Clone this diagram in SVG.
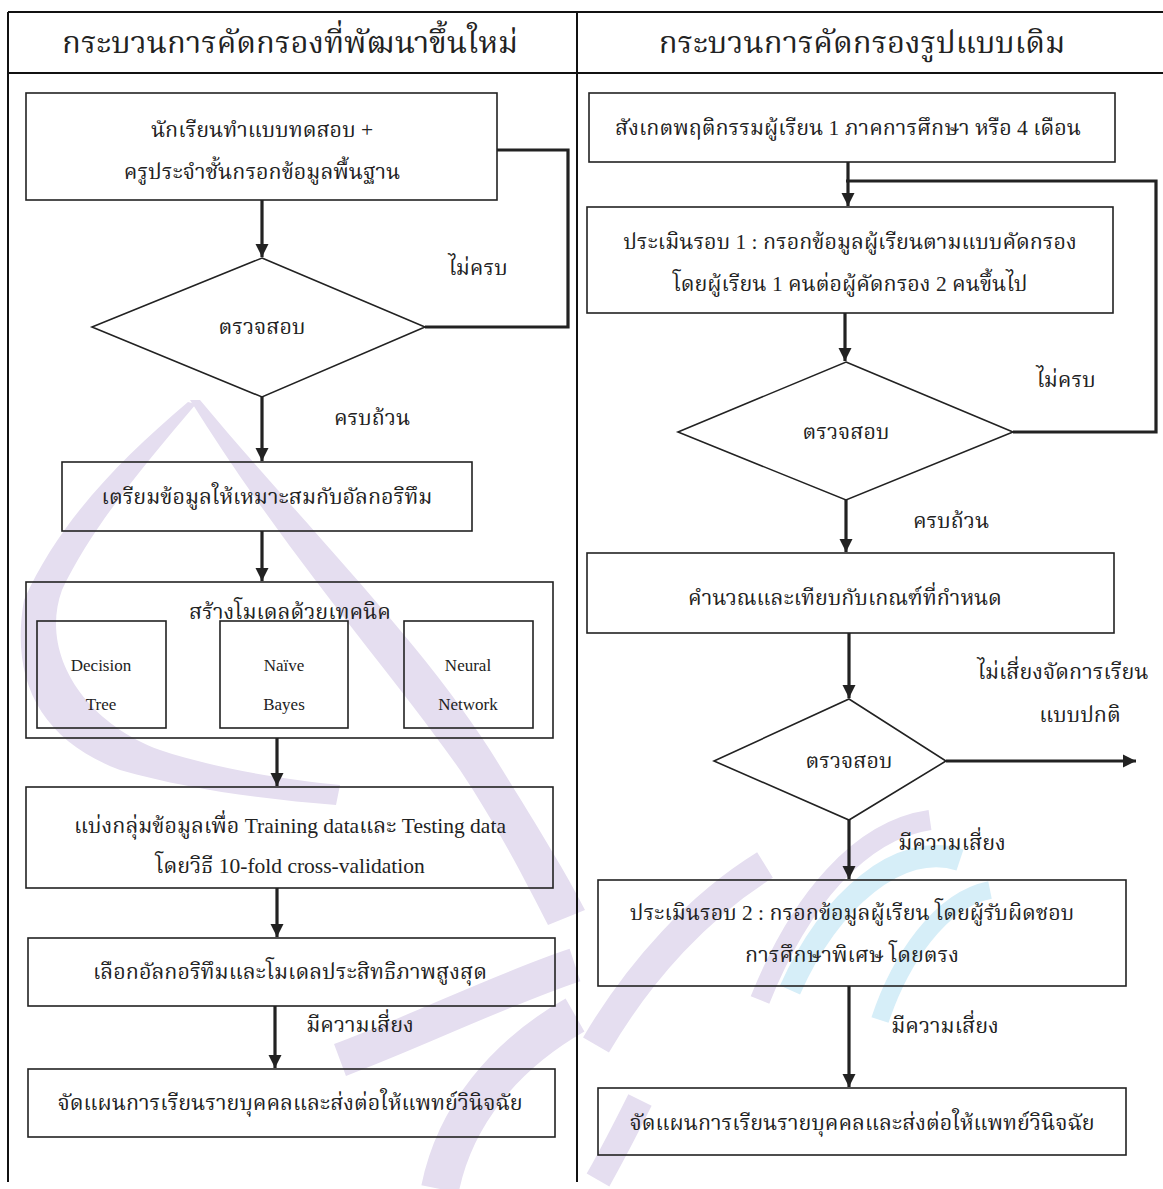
<svg xmlns="http://www.w3.org/2000/svg" width="1163" height="1189" viewBox="0 0 1163 1189">
<defs>
<marker id="ah" viewBox="0 0 10 10" refX="10" refY="5" markerWidth="4.2" markerHeight="4.2" markerUnits="strokeWidth" orient="auto">
<path d="M0,0 L10,5 L0,10 z" fill="#222"/>
</marker>
</defs>
<style>
.t{font-family:"Liberation Serif","Noto Serif Thai","Noto Sans Thai",serif;fill:#222;text-anchor:middle;dominant-baseline:central}
.h{font-size:31px}
.b{font-size:21.5px}
.s{font-size:17px}
.box{fill:none;stroke:#222;stroke-width:1.6}
.dia{fill:none;stroke:#222;stroke-width:1.6}
.tb{stroke:#111;stroke-width:2;fill:none}
.c{stroke:#222;stroke-width:3.2;fill:none}
.ca{stroke:#222;stroke-width:3.2;fill:none;marker-end:url(#ah)}
.wm{fill:none;stroke:#e5def0;stroke-linecap:butt}
.wf{fill:#e5def0;stroke:none}
.wc{fill:none;stroke:#d6eef8}
</style>
<rect width="1163" height="1189" fill="#fff"/>
<g id="watermark">
<path class="wf" d="M 190 400 L 200 400 C 300 520 420 640 490 750 C 540 830 570 880 585 910 L 548 925 C 530 890 500 830 460 770 C 390 670 290 560 190 400 Z"/>
<path class="wf" d="M 188 402 L 196 404 C 140 470 90 530 62 590 C 40 650 80 720 160 750 C 220 770 290 780 340 785 L 336 805 C 270 800 190 790 120 770 C 40 740 10 680 24 600 C 60 520 120 460 188 402 Z"/>
<path class="wm" stroke-width="34" d="M 575 965 C 500 990 420 1030 340 1060"/>
<path class="wm" stroke-width="38" d="M 575 1015 C 505 1055 455 1115 440 1189"/>
<path class="wm" stroke-width="30" d="M 596 1045 C 640 970 700 905 765 865"/>
<path class="wm" stroke-width="26" d="M 598 1180 C 615 1150 630 1120 640 1100"/>
<path class="wc" stroke-width="22" d="M 790 990 C 830 900 900 840 960 860"/>
<path class="wm" stroke-width="20" d="M 760 1000 C 800 900 860 830 930 820"/>
<path class="wc" stroke-width="18" d="M 880 1020 C 900 960 940 900 990 890"/>
</g>
<g id="table">
<line class="tb" x1="8" y1="12" x2="1163" y2="12"/>
<line class="tb" x1="8" y1="73" x2="1163" y2="73"/>
<line class="tb" x1="8" y1="12" x2="8" y2="1182"/>
<line class="tb" x1="577" y1="12" x2="577" y2="1182"/>
<text class="t h" x="290" y="42">กระบวนการคัดกรองที่พัฒนาขึ้นใหม่</text>
<text class="t h" x="862" y="42">กระบวนการคัดกรองรูปแบบเดิม</text>
</g>
<g id="connectors">
<polyline class="c" points="497,150 568,150 568,327 425,327"/>
<line class="ca" x1="262" y1="200" x2="262" y2="257"/>
<line class="ca" x1="262" y1="397" x2="262" y2="461"/>
<line class="ca" x1="262" y1="531" x2="262" y2="581"/>
<line class="ca" x1="277" y1="738" x2="277" y2="786"/>
<line class="ca" x1="277" y1="888" x2="277" y2="937"/>
<line class="ca" x1="275" y1="1006" x2="275" y2="1068"/>
<line class="ca" x1="848" y1="162" x2="848" y2="206"/>
<polyline class="c" points="1013,432 1156,432 1156,181 846,181"/>
<line class="ca" x1="845" y1="313" x2="845" y2="361"/>
<line class="ca" x1="846" y1="500" x2="846" y2="552"/>
<line class="ca" x1="849" y1="633" x2="849" y2="698"/>
<line class="ca" x1="946" y1="761" x2="1136" y2="761"/>
<line class="ca" x1="849" y1="820" x2="849" y2="879"/>
<line class="ca" x1="849" y1="986" x2="849" y2="1087"/>
<text class="t b" x="478" y="268">ไม่ครบ</text>
<text class="t b" x="372" y="418">ครบถ้วน</text>
<text class="t b" x="360" y="1025">มีความเสี่ยง</text>
<text class="t b" x="1066" y="380">ไม่ครบ</text>
<text class="t b" x="951" y="521">ครบถ้วน</text>
<text class="t b" x="1063" y="672">ไม่เสี่ยงจัดการเรียน</text>
<text class="t b" x="1080" y="715">แบบปกติ</text>
<text class="t b" x="952" y="843">มีความเสี่ยง</text>
<text class="t b" x="945" y="1026">มีความเสี่ยง</text>
</g>
<g id="n-start">
<rect class="box" x="26" y="93" width="471" height="107"/>
<text class="t b" x="262" y="130">นักเรียนทำแบบทดสอบ +</text>
<text class="t b" x="262" y="172">ครูประจำชั้นกรอกข้อมูลพื้นฐาน</text>
</g>
<g id="n-check1">
<polygon class="dia" points="262,258 425,327 262,397 92,327"/>
<text class="t b" x="262" y="327">ตรวจสอบ</text>
</g>
<g id="n-prep">
<rect class="box" x="62" y="462" width="410" height="69"/>
<text class="t b" x="267" y="497">เตรียมข้อมูลให้เหมาะสมกับอัลกอริทึม</text>
</g>
<g id="n-model">
<rect class="box" x="26" y="582" width="527" height="156"/>
<text class="t b" x="290" y="612">สร้างโมเดลด้วยเทคนิค</text>
</g>
<g id="n-dt">
<rect class="box" x="37" y="621" width="129" height="107"/>
<text class="t s" x="101" y="665">Decision</text>
<text class="t s" x="101" y="704">Tree</text>
</g>
<g id="n-nb">
<rect class="box" x="220" y="621" width="128" height="107"/>
<text class="t s" x="284" y="665">Naïve</text>
<text class="t s" x="284" y="704">Bayes</text>
</g>
<g id="n-nn">
<rect class="box" x="404" y="621" width="129" height="107"/>
<text class="t s" x="468" y="665">Neural</text>
<text class="t s" x="468" y="704">Network</text>
</g>
<g id="n-split">
<rect class="box" x="26" y="787" width="527" height="101"/>
<text class="t b" x="290" y="826">แบ่งกลุ่มข้อมูลเพื่อ Training dataและ Testing data</text>
<text class="t b" x="290" y="866">โดยวิธี 10-fold cross-validation</text>
</g>
<g id="n-select">
<rect class="box" x="28" y="938" width="527" height="68"/>
<text class="t b" x="290" y="972">เลือกอัลกอริทึมและโมเดลประสิทธิภาพสูงสุด</text>
</g>
<g id="n-plan-l">
<rect class="box" x="28" y="1069" width="527" height="68"/>
<text class="t b" x="290" y="1103">จัดแผนการเรียนรายบุคคลและส่งต่อให้แพทย์วินิจฉัย</text>
</g>
<g id="n-observe">
<rect class="box" x="589" y="93" width="526" height="69"/>
<text class="t b" x="848" y="128">สังเกตพฤติกรรมผู้เรียน 1 ภาคการศึกษา หรือ 4 เดือน</text>
</g>
<g id="n-round1">
<rect class="box" x="587" y="207" width="526" height="106"/>
<text class="t b" x="850" y="242">ประเมินรอบ 1 : กรอกข้อมูลผู้เรียนตามแบบคัดกรอง</text>
<text class="t b" x="850" y="284">โดยผู้เรียน 1 คนต่อผู้คัดกรอง 2 คนขึ้นไป</text>
</g>
<g id="n-check2">
<polygon class="dia" points="846,362 1013,432 846,500 678,432"/>
<text class="t b" x="846" y="432">ตรวจสอบ</text>
</g>
<g id="n-calc">
<rect class="box" x="587" y="553" width="527" height="80"/>
<text class="t b" x="845" y="598">คำนวณและเทียบกับเกณฑ์ที่กำหนด</text>
</g>
<g id="n-check3">
<polygon class="dia" points="849,699 946,761 849,820 714,761"/>
<text class="t b" x="849" y="761">ตรวจสอบ</text>
</g>
<g id="n-round2">
<rect class="box" x="598" y="880" width="528" height="106"/>
<text class="t b" x="852" y="913">ประเมินรอบ 2 : กรอกข้อมูลผู้เรียน โดยผู้รับผิดชอบ</text>
<text class="t b" x="852" y="955">การศึกษาพิเศษ โดยตรง</text>
</g>
<g id="n-plan-r">
<rect class="box" x="598" y="1088" width="528" height="67"/>
<text class="t b" x="862" y="1123">จัดแผนการเรียนรายบุคคลและส่งต่อให้แพทย์วินิจฉัย</text>
</g>
</svg>
